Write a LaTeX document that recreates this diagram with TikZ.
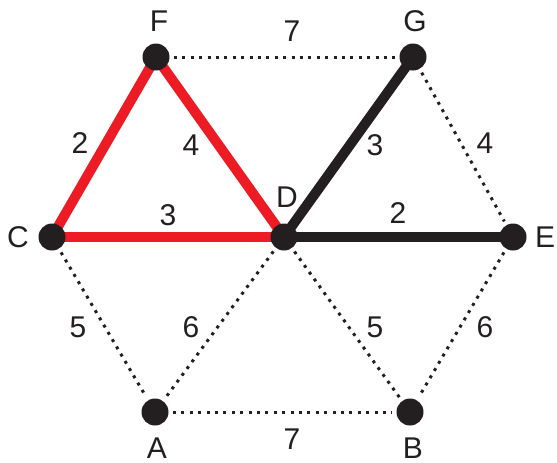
\documentclass[tikz,border=0pt]{standalone}
\usepackage{fontspec}
\setmainfont{Liberation Sans}
\usetikzlibrary{backgrounds}
\definecolor{edgered}{HTML}{ED1C24}
\definecolor{inkblack}{HTML}{231F20}

\begin{document}
\begin{tikzpicture}[
  x=0.5pt,
  y=-0.5pt,
  font=\fontsize{15}{18}\selectfont,
  text=inkblack,
  vertex/.style={circle, fill=inkblack, minimum size=13.5pt, inner sep=0pt},
  tag/.style={inner sep=0pt},
  weight/.style={inner sep=0pt},
  redline/.style={line width=5pt, draw=edgered},
  blackline/.style={line width=5pt, draw=inkblack},
  dotline/.style={line width=1.5pt, dash pattern=on 1.5pt off 2.7pt,
    draw=inkblack, shorten <=2pt, shorten >=2pt}
]
\useasboundingbox (0,0) rectangle (557,462);

% vertices
\node[vertex] (F) at (156,57) {};
\node[vertex] (G) at (413,57) {};
\node[vertex] (C) at (52,237) {};
\node[vertex] (D) at (284,237) {};
\node[vertex] (E) at (513,237) {};
\node[vertex] (A) at (155,412) {};
\node[vertex] (B) at (410,412) {};

% vertex names
\node[tag] (Ft) at (159,21) {F};
\node[tag] (Gt) at (415,21) {G};
\node[tag] (Ct) at (18,237) {C};
\node[tag] (Dt) at (287,197) {D};
\node[tag] (Et) at (545,237) {E};
\node[tag] (At) at (157,448) {A};
\node[tag] (Bt) at (413,448) {B};

% edges
\begin{scope}[on background layer]
  \draw[redline] (F.center) -- (C.center);
  \draw[redline] (F.center) -- (D.center);
  \draw[redline] (C.center) -- (D.center);
  \draw[blackline] (D.center) -- (G.center);
  \draw[blackline] (D.center) -- (E.center);
\end{scope}
\draw[dotline] (F) -- (G);
\draw[dotline] (G) -- (E);
\draw[dotline] (C) -- (A);
\draw[dotline] (D) -- (A);
\draw[dotline] (D) -- (B);
\draw[dotline] (E) -- (B);
\draw[dotline] (A) -- (B);

% weights
\node[weight] (wFG) at (292,31) {7};
\node[weight] (wFC) at (80,143) {2};
\node[weight] (wFD) at (191,145) {4};
\node[weight] (wCD) at (168,215) {3};
\node[weight] (wDG) at (375,145) {3};
\node[weight] (wDE) at (398,213) {2};
\node[weight] (wGE) at (485,143) {4};
\node[weight] (wCA) at (78,327) {5};
\node[weight] (wDA) at (191,327) {6};
\node[weight] (wDB) at (375,327) {5};
\node[weight] (wEB) at (485,327) {6};
\node[weight] (wAB) at (292,439) {7};

\end{tikzpicture}
\end{document}
